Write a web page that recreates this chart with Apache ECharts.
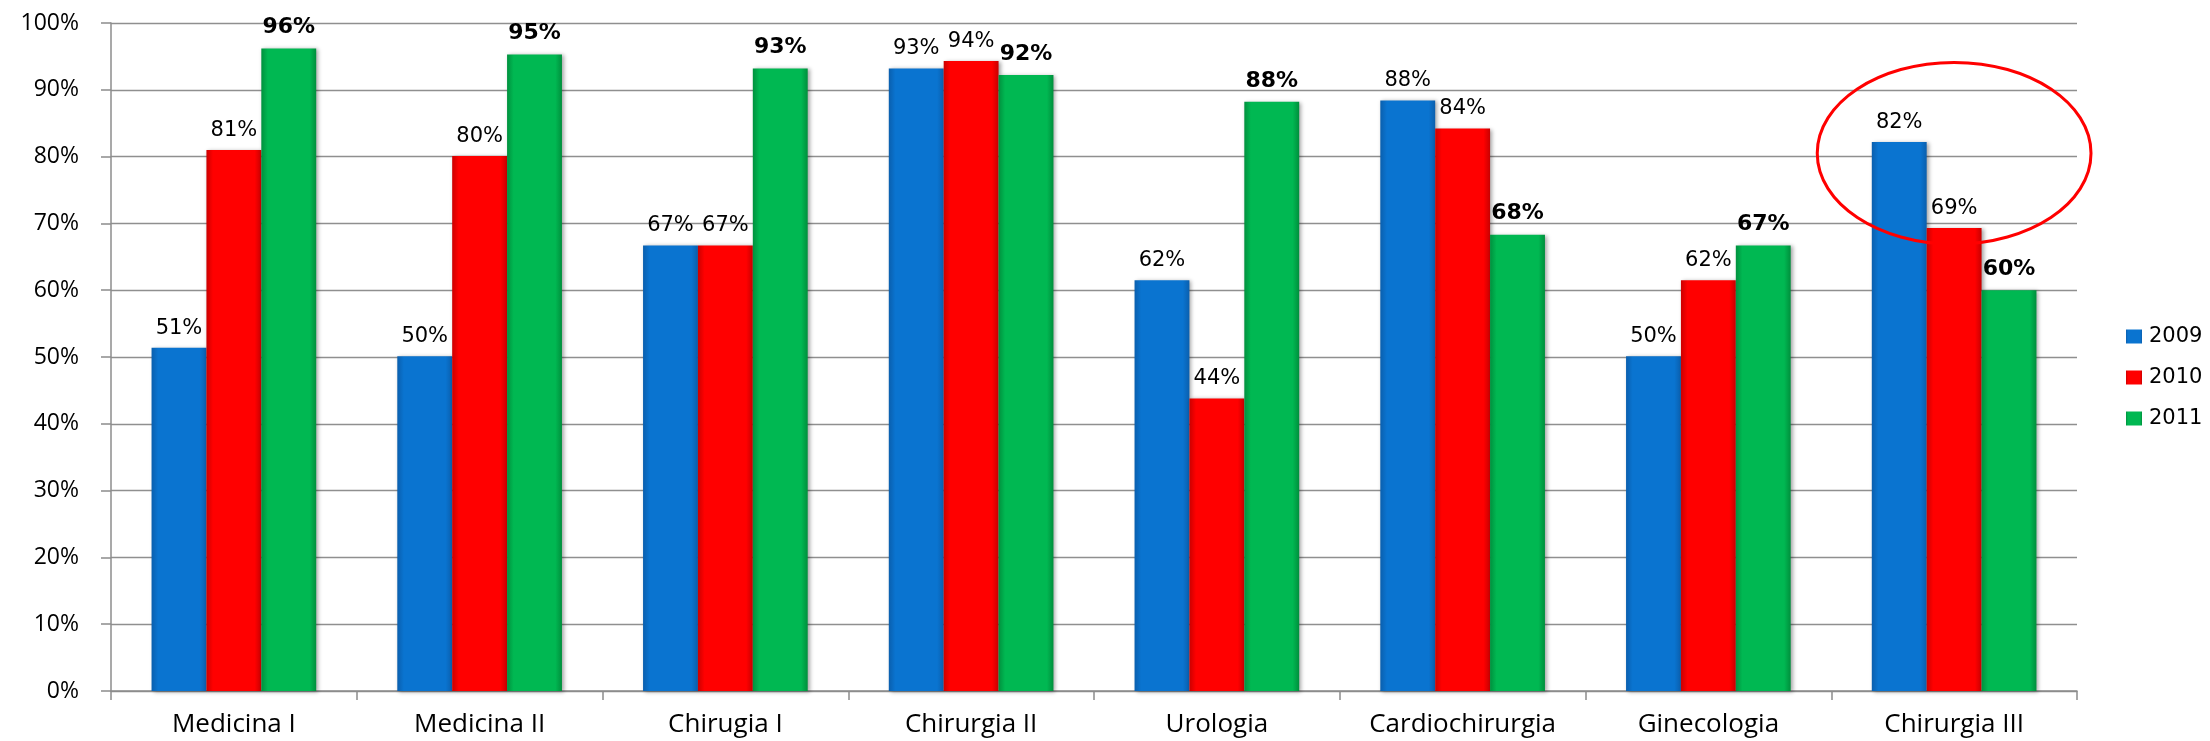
<!DOCTYPE html>
<html lang="it">
<head>
    <meta charset="UTF-8">
    <title>Confronto reparti 2009-2011</title>
    <script src="https://cdn.jsdelivr.net/npm/echarts@6/dist/echarts.min.js"></script>
    <style>
        html, body { margin: 0; padding: 0; background: #fff; }
        #main { width: 2210px; height: 741px; }
    </style>
</head>
<body>
<div id="main"></div>
<script>
    // dati
    var reparti = ['Medicina I', 'Medicina II', 'Chirugia I', 'Chirurgia II', 'Urologia', 'Cardiochirurgia', 'Ginecologia', 'Chirurgia III'];
    var anni = ['2009', '2010', '2011'];
    var val2009 = [51.4, 50.1, 66.7, 93.2, 61.5, 88.4, 50.1, 82.2];
    var val2010 = [81.0, 80.1, 66.7, 94.3, 43.8, 84.2, 61.5, 69.3];
    var val2011 = [96.2, 95.3, 93.2, 92.2, 88.2, 68.3, 66.7, 60.0];
    var yTicks = [0, 10, 20, 30, 40, 50, 60, 70, 80, 90, 100];

    // ellisse rossa intorno a Chirurgia III
    var evidenziato = 'Chirurgia III';

    var colori = [
        ['#0a5fae', '#0a74d0', '#0a5fae'],
        ['#cc0000', '#ff0000', '#c80000'],
        ['#00913e', '#00b852', '#008f3c']
    ];

    function grad(c) {
        return new echarts.graphic.LinearGradient(0, 0, 1, 0, [
            {offset: 0, color: c[0]},
            {offset: 0.12, color: c[1]},
            {offset: 0.88, color: c[1]},
            {offset: 1, color: c[2]}
        ]);
    }

    function serie(nome, dati, idx, bold) {
        return {
            name: nome,
            type: 'bar',
            data: dati,
            barGap: '0%',
            barCategoryGap: '33%',
            itemStyle: {
                color: grad(colori[idx]),
                shadowColor: 'rgba(0,0,0,0.35)',
                shadowBlur: 4,
                shadowOffsetX: 2,
                shadowOffsetY: 1
            },
            label: {
                show: true,
                position: 'top',
                distance: bold ? 10 : 9,
                fontFamily: 'DejaVu Sans',
                fontSize: bold ? 22 : 21,
                fontWeight: bold ? 'bold' : 'normal',
                color: '#000',
                formatter: function (p) {
                    return Math.round(p.value) + '%';
                }
            }
        };
    }

    var myChart = echarts.init(document.getElementById('main'));
    var option = {
        animation: false,
        backgroundColor: '#fff',
        grid: {
            left: 111,
            right: 133,
            top: 23,
            bottom: 50
        },
        legend: {
            orient: 'vertical',
            left: 2121,
            top: 320,
            itemWidth: 16,
            itemHeight: 14,
            itemGap: 18,
            icon: 'rect',
            data: anni,
            textStyle: {
                fontFamily: 'DejaVu Sans',
                fontSize: 21,
                lineHeight: 23,
                color: '#000',
                padding: [0, 0, 0, 2]
            }
        },
        xAxis: {
            type: 'category',
            data: reparti,
            axisLine: {lineStyle: {color: '#8c8c8c', width: 1.5}},
            axisTick: {show: true, interval: 0, length: 9, lineStyle: {color: '#8c8c8c', width: 1.5}},
            axisLabel: {
                interval: 0,
                hideOverlap: false,
                fontFamily: 'Open Sans',
                fontSize: 26,
                color: '#000',
                margin: 21
            }
        },
        yAxis: {
            type: 'value',
            min: yTicks[0],
            max: yTicks[yTicks.length - 1],
            interval: 10,
            axisLine: {show: true, lineStyle: {color: '#8c8c8c', width: 1.5}},
            axisTick: {show: true, length: 10, lineStyle: {color: '#8c8c8c', width: 1.5}},
            splitLine: {lineStyle: {color: '#8f8f8f', width: 1.4}},
            axisLabel: {
                fontFamily: 'Open Sans',
                fontSize: 23,
                color: '#000',
                margin: 32,
                formatter: function (v) {
                    return v + '%';
                }
            }
        },
        series: [
            serie(anni[0], val2009, 0, false),
            serie(anni[1], val2010, 1, false),
            serie(anni[2], val2011, 2, true)
        ]
    };
    myChart.setOption(option);

    // posiziona l'ellisse con le coordinate degli assi
    var idxEv = reparti.indexOf(evidenziato);
    var cx = myChart.convertToPixel({xAxisIndex: 0}, reparti[idxEv]);
    var cPrev = myChart.convertToPixel({xAxisIndex: 0}, reparti[idxEv - 1]);
    var larghezzaCat = cx - cPrev;
    var cy = myChart.convertToPixel({yAxisIndex: 0}, 80.5);
    var yTop = myChart.convertToPixel({yAxisIndex: 0}, 94.1);
    myChart.setOption({
        graphic: [{
            type: 'ellipse',
            shape: {cx: cx, cy: cy, rx: larghezzaCat * 0.557, ry: cy - yTop},
            style: {fill: 'none', stroke: '#ff0000', lineWidth: 3},
            z: 100
        }]
    });
</script>
</body>
</html>
